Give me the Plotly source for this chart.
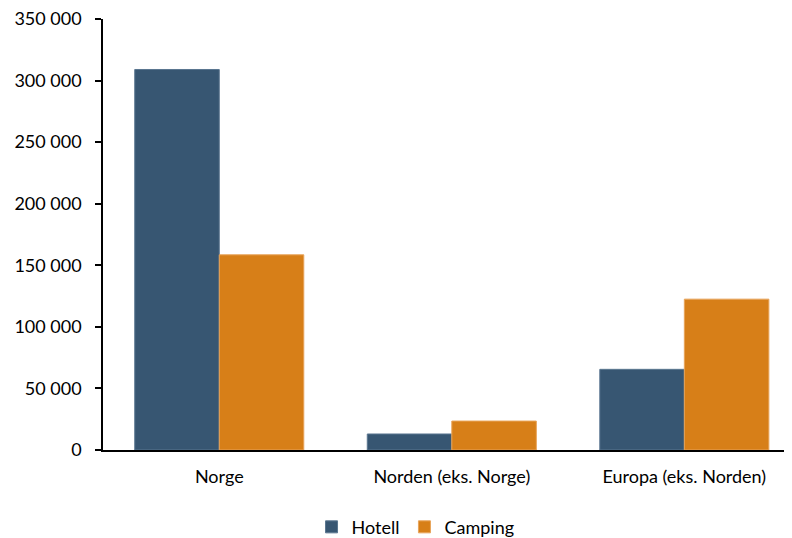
import plotly.graph_objects as go

categories = ["Norge", "Norden (eks. Norge)", "Europa (eks. Norden)"]
hotell = [309000, 13000, 65500]
camping = [158500, 23500, 122500]
y_ticks = [0, 50000, 100000, 150000, 200000, 250000, 300000, 350000]

font = "Lato, 'Open Sans', sans-serif"

fig = go.Figure()
fig.add_trace(go.Bar(name="Hotell", x=categories, y=hotell,
                     marker=dict(color="#375672", line=dict(color="#5a7690", width=1))))
fig.add_trace(go.Bar(name="Camping", x=categories, y=camping,
                     marker=dict(color="#D77F18", line=dict(color="#e8a45a", width=1))))

fig.update_layout(
    width=784, height=530,
    margin=dict(l=95, r=0, t=11, b=88, autoexpand=False),
    paper_bgcolor="white", plot_bgcolor="white",
    barmode="group", bargap=0.273, bargroupgap=0,
    separators=", ",
    font=dict(family=font, size=18, color="#000000"),
    showlegend=True,
    legend=dict(orientation="h", x=0.4536, xanchor="center", y=-0.179, yanchor="middle",
                font=dict(size=18), itemwidth=30, traceorder="normal"),
    xaxis=dict(range=[-0.5, 2.463], showline=True, linecolor="black", linewidth=1.5,
               ticks="", ticklabelstandoff=10, showgrid=False, zeroline=False,
               automargin=False),
    yaxis=dict(range=[0, 350000], tickvals=y_ticks, tickformat=",d",
               showline=True, linecolor="black", linewidth=1.5,
               ticks="outside", ticklen=6, tickcolor="black", tickwidth=1.5,
               showgrid=False, zeroline=False, ticklabelstandoff=10, automargin=False,
               ticklabeloverflow="allow"),
)

fig.write_html("out.html")
